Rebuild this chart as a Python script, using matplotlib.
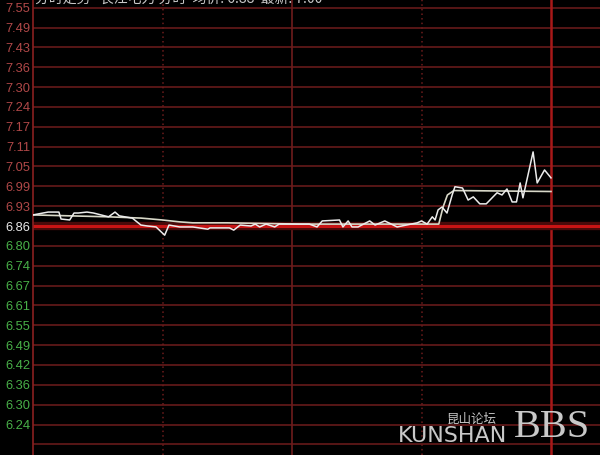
import matplotlib
matplotlib.use("Agg")
import matplotlib.pyplot as plt

plt.rcParams["font.family"] = ["DejaVu Sans", "Noto Sans CJK SC"]

# datos (minutos desde 9:30, precio)
minutos = [0, 7, 12, 13, 17, 19, 21, 25, 28, 35, 38, 40, 46, 50, 53, 57, 61, 63, 68, 74,
           81, 82, 91, 93, 96, 101, 103, 105, 108, 112, 114, 124, 128, 131.6, 134, 142,
           143.6, 146, 147.8, 150.6, 156, 158.5, 163, 168.7, 178, 180, 182.6, 185, 186.3,
           187.7, 189.5, 191.8, 194.2, 195.5, 199, 201.6, 204, 207, 210, 215, 217.3, 219.6,
           222, 224, 225.7, 227, 231.7, 233.6, 237, 240]
precio = [6.895, 6.904, 6.904, 6.882, 6.879, 6.901, 6.901, 6.904, 6.901, 6.889, 6.904, 6.892,
          6.885, 6.863, 6.860, 6.857, 6.831, 6.863, 6.857, 6.857, 6.850, 6.854, 6.854, 6.847,
          6.863, 6.860, 6.866, 6.857, 6.866, 6.857, 6.866, 6.866, 6.866, 6.857, 6.876, 6.879,
          6.857, 6.876, 6.857, 6.857, 6.876, 6.863, 6.876, 6.857, 6.870, 6.876, 6.866, 6.889,
          6.879, 6.911, 6.920, 6.901, 6.958, 6.984, 6.980, 6.942, 6.952, 6.930, 6.930, 6.965,
          6.958, 6.977, 6.936, 6.936, 6.996, 6.949, 7.094, 6.996, 7.037, 7.012]

minutos_prom = [0, 35, 50, 60, 68, 74, 90, 124, 188, 190, 192, 195, 240]
promedio = [6.895, 6.889, 6.885, 6.879, 6.873, 6.870, 6.870, 6.866, 6.866, 6.920, 6.958,
            6.972, 6.969]

cierre_anterior = 6.86
etiquetas_arriba = ["6.93", "6.99", "7.05", "7.11", "7.17", "7.24", "7.30", "7.36", "7.43",
                    "7.49", "7.55"]
etiquetas_abajo = ["6.80", "6.74", "6.67", "6.61", "6.55", "6.49", "6.42", "6.36", "6.30",
                   "6.24", ""]
paso = 0.0627

fig = plt.figure(figsize=(6, 4.55), dpi=100, facecolor="black")
ax = fig.add_axes([33 / 600, 0, 567 / 600, 1])
ax.set_facecolor("black")

por_px = paso / 19.85
ax.set_ylim(cierre_anterior - 229 * por_px, cierre_anterior + 226 * por_px)
ax.set_xlim(0, 262.7)

rojo_osc = "#6e1c1c"
# lineas horizontales
for k in range(1, 12):
    ax.axhline(cierre_anterior + k * paso, color=rojo_osc, lw=1.1, zorder=1)
    ax.axhline(cierre_anterior - k * paso, color=rojo_osc, lw=1.1, zorder=1)

# lineas verticales
ax.axvline(60, color=rojo_osc, lw=1.1, ls=(0, (1, 2)), zorder=1)
ax.axvline(120, color=rojo_osc, lw=1.2, zorder=1)
ax.axvline(180, color=rojo_osc, lw=1.1, ls=(0, (1, 2)), zorder=1)
ax.axvline(240, color="#a81818", lw=1.8, zorder=1)

# cierre anterior
ax.axhline(cierre_anterior, color="#4a0a0a", lw=6, zorder=2)
ax.axhline(cierre_anterior, color="#c81414", lw=2.2, zorder=2)

ax.plot(minutos_prom, promedio, color="#d8d8c8", lw=1.2, zorder=3)
ax.plot(minutos, precio, color="#ececec", lw=1.1, zorder=4)

# etiquetas del eje
ticks = [cierre_anterior] + [cierre_anterior + (i + 1) * paso for i in range(11)] + \
        [cierre_anterior - (i + 1) * paso for i in range(11)]
labels = ["6.86"] + etiquetas_arriba + etiquetas_abajo
ax.set_yticks(ticks)
ax.set_yticklabels(labels, fontsize=9.3, family="Liberation Sans")
for t in ax.get_yticklabels():
    txt = t.get_text()
    if txt == "6.86":
        t.set_color("#e8e8e8")
    elif txt in etiquetas_arriba:
        t.set_color("#b04848")
    else:
        t.set_color("#48b048")
ax.tick_params(axis="y", length=0, pad=2)
ax.set_xticks([])
for lado in ["top", "right", "bottom"]:
    ax.spines[lado].set_visible(False)
ax.spines["left"].set_color("#8a2020")
ax.spines["left"].set_linewidth(1.2)

# titulo cortado arriba
fig.text(35 / 600, 1 - 6 / 455, "分时走势   长江电力 分时  均价: 6.88  最新: 7.00",
         family=["Noto Sans CJK SC", "DejaVu Sans"], fontsize=10, color="#c8c8c8",
         ha="left", va="bottom")

# marca de agua
fig.text(398 / 600, 1 - 446 / 455, "KUNSHAN", fontsize=16, color="#c8c8c8",
         ha="left", va="bottom")
fig.text(447 / 600, 1 - 426 / 455, "昆山论坛", family=["Noto Sans CJK SC"], fontsize=9,
         color="#c8c8c8", ha="left", va="bottom")
fig.text(514 / 600, 1 - 446 / 455, "BBS", family="Liberation Serif", fontsize=29,
         color="#c8c8c8", ha="left", va="bottom")

fig.savefig("out.png", dpi=100, facecolor="black")
